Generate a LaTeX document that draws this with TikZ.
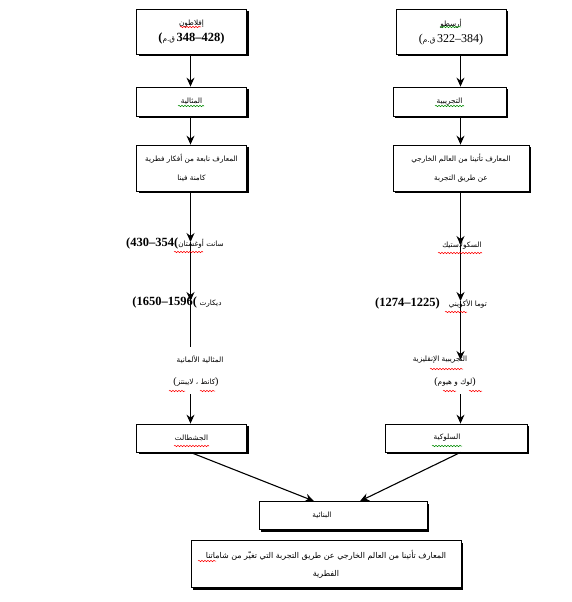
\documentclass[tikz,border=0pt]{standalone}
\usepackage{fontspec}
\setmainfont{Liberation Serif}
\newfontfamily\arfont[Script=Arabic]{DejaVu Sans}
\TeXXeTstate=1
\usetikzlibrary{arrows.meta,shadows,decorations.pathmorphing}
\newcommand\AR[1]{{\arfont\fontsize{7.3}{9}\selectfont\beginR #1\endR}}
\newcommand\ARB[1]{{\arfont\fontsize{8}{10}\selectfont\beginR #1\endR}}
\newcommand\NUMB[1]{{\fontsize{12.5}{14}\selectfont\bfseries #1}}
\newcommand\NUMR[1]{{\fontsize{12}{14}\selectfont #1}}
\newcommand\PAR[1]{{\fontsize{10}{12}\selectfont #1}}
\begin{document}
\begin{tikzpicture}[x=1pt,y=-1pt,
  box/.style={draw,line width=0.8pt,fill=white,
    drop shadow={shadow xshift=2pt,shadow yshift=-2pt,opacity=1,fill=black},
    inner sep=0pt,align=center},
  arr/.style={line width=1.1pt,-{Stealth[length=9pt,width=8pt,inset=3pt]}},
  ln/.style={line width=1.1pt},
  lbl/.style={inner sep=0pt,align=center},
  redwave/.style={draw=red,line width=0.5pt,decorate,
    decoration={snake,segment length=3pt,amplitude=0.7pt}},
  greenwave/.style={draw=green!55!black,line width=0.5pt,decorate,
    decoration={snake,segment length=3pt,amplitude=0.7pt}}]
\fill[white] (0,0) rectangle (572,602);
\useasboundingbox (0,0) rectangle (572,602);

\coordinate (lx) at (190.5,0);
\coordinate (rx) at (460.5,0);
\coordinate (bx1) at (314,0);
\coordinate (bx2) at (360,0);

% boxes
\node[box,minimum width=110pt,minimum height=45pt] (aflatun) at (191.5,32)
  {\AR{إفلاطون}\\[4pt]\NUMB{(}\AR{ق.م}\,\NUMB{348–428)}};
\node[box,minimum width=110pt,minimum height=45pt] (aristu) at (451,32)
  {\AR{أرسطو}\\[4pt]\NUMR{(}\AR{ق.م}\,\NUMR{322–384)}};
\node[box,minimum width=110pt,minimum height=29pt] (mith) at (191.5,101.5)
  {\AR{المثالية}};
\node[box,minimum width=113pt,minimum height=29pt] (tajr) at (449.5,101.5)
  {\AR{التجريبية}};
\node[box,minimum width=110pt,minimum height=46pt] (knowL) at (191.5,168)
  {\AR{المعارف نابعة من أفكار فطرية}\\[7pt]\AR{كامنة فينا}};
\node[box,minimum width=136pt,minimum height=46pt] (knowR) at (461,168)
  {\AR{المعارف تأتينا من العالم الخارجي}\\[7pt]\AR{عن طريق التجربة}};
\node[box,minimum width=110pt,minimum height=28pt] (jesh) at (191.5,438)
  {\AR{الجشطالت}};
\node[box,minimum width=142pt,minimum height=28pt] (suluk) at (456,438)
  {\AR{السلوكية}\hspace{18pt}};
\node[box,minimum width=168pt,minimum height=28pt] (bin) at (343,515.5)
  {\AR{البنائية}\hspace{42pt}};
\node[box,minimum width=270pt,minimum height=47pt] (final) at (326,564)
  {\ARB{المعارف تأتينا من العالم الخارجي عن طريق التجربة التي تغيّر من شاماتنا}\\[6pt]\ARB{الفطرية}\hspace{22pt}};

% free labels
\node[lbl] (aug) at (175,243) {\NUMB{(430–354(}\AR{سانت أوغستان}};
\node[lbl] (desc) at (177,302) {\NUMB{(1650–1596(}\ \AR{ديكارت}};
\node[lbl] (schol) at (462,246) {\AR{السكولاستيك}};
\node[lbl] (thomas) at (431,303) {\NUMB{(1274–1225)}\hspace{9pt}\AR{توما الأكويني}};
\node[lbl] (germ1) at (200,360) {\AR{المثالية الألمانية}};
\node[lbl] (germ2) at (196,382) {\PAR{(}\AR{كانط ، لايبنتز}\PAR{)}};
\node[lbl] (eng1) at (440,360) {\AR{التجريبية الإنقليزية}};
\node[lbl] (eng2) at (455,382) {\PAR{(}\AR{لوك و هيوم}\PAR{)}};

% connector points
\coordinate (augtip) at (190.5,242);
\coordinate (destip) at (190.5,301);
\coordinate (lend) at (190.5,347);
\coordinate (lstart2) at (190.5,394);
\coordinate (schtip) at (460.5,245);
\coordinate (thotip) at (460.5,301);
\coordinate (engtip) at (460.5,360);
\coordinate (rstart2) at (460.5,394);

% connectors
\draw[arr] (aflatun.south -| lx) -- (mith.north -| lx);
\draw[arr] (aristu.south -| rx) -- (tajr.north -| rx);
\draw[arr] (mith.south -| lx) -- (knowL.north -| lx);
\draw[arr] (tajr.south -| rx) -- (knowR.north -| rx);
\draw[arr] (knowL.south -| lx) -- (augtip);
\draw[arr] (augtip) -- (destip);
\draw[ln] (destip) -- (lend);
\draw[arr] (lstart2) -- (jesh.north -| lx);
\draw[arr] (knowR.south -| rx) -- (schtip);
\draw[arr] (schtip) -- (thotip);
\draw[arr] (thotip) -- (engtip);
\draw[arr] (rstart2) -- (suluk.north -| rx);
\draw[arr] (jesh.south -| lx) -- (bin.north -| bx1);
\draw[arr] (suluk.south -| rx) -- (bin.north -| bx2);

% spell-check underlines
\draw[redwave] (180,27) -- (201,27);
\draw[greenwave] (440,27) -- (461,27);
\draw[greenwave] (178,106) -- (204,106);
\draw[greenwave] (435,106) -- (464,106);
\draw[redwave] (174,252) -- (203,252);
\draw[redwave] (438,253) -- (482,253);
\draw[redwave] (445,312) -- (467,312);
\draw[redwave] (169,391) -- (185,391);
\draw[redwave] (200,391) -- (215,391);
\draw[redwave] (430,369) -- (463,369);
\draw[redwave] (443,391) -- (456,391);
\draw[redwave] (469,391) -- (482,391);
\draw[redwave] (174,446) -- (209,446);
\draw[greenwave] (432,446) -- (462,446);
\draw[redwave] (198,561) -- (216,561);
\end{tikzpicture}
\end{document}
